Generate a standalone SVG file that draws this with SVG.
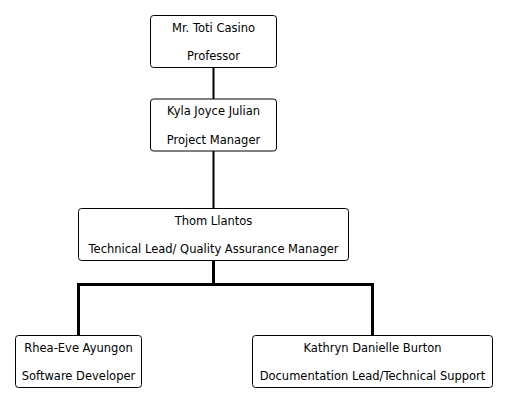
<svg xmlns="http://www.w3.org/2000/svg" width="507" height="402" viewBox="0 0 507 402">
<style>
.box{fill:#fff;stroke:#000;stroke-width:1}
.t{font-family:"DejaVu Sans",sans-serif;font-size:11.5px;fill:#000;text-anchor:middle}
.c{fill:none;stroke:#000;stroke-linecap:butt;stroke-linejoin:miter}
</style>
<rect width="507" height="402" fill="#fff"/>
<g id="connectors">
<line class="c" x1="213.5" y1="67.5" x2="213.5" y2="99" stroke-width="2"/>
<line class="c" x1="213.5" y1="151" x2="213.5" y2="208.5" stroke-width="2"/>
<polyline class="c" points="213.5,260.5 213.5,284.5" stroke-width="3"/>
<polyline class="c" points="78.5,335.5 78.5,284.5 372.5,284.5 372.5,335.5" stroke-width="3"/>
</g>
<g id="n1">
<rect class="box" x="150.5" y="15.5" width="126" height="52" rx="3"/>
<text class="t" x="213.5" y="31.5">Mr. Toti Casino</text>
<text class="t" x="213.5" y="60">Professor</text>
</g>
<g id="n2">
<rect class="box" x="150.5" y="99" width="126" height="52" rx="3"/>
<text class="t" x="213.5" y="115">Kyla Joyce Julian</text>
<text class="t" x="213.5" y="143.5">Project Manager</text>
</g>
<g id="n3">
<rect class="box" x="78.5" y="208.5" width="270" height="52" rx="3"/>
<text class="t" x="213.5" y="224.5">Thom Llantos</text>
<text class="t" x="213.5" y="253">Technical Lead/ Quality Assurance Manager</text>
</g>
<g id="n4">
<rect class="box" x="15.5" y="335.5" width="126" height="52" rx="3"/>
<text class="t" x="78.5" y="351.5">Rhea-Eve Ayungon</text>
<text class="t" x="78.5" y="380">Software Developer</text>
</g>
<g id="n5">
<rect class="box" x="252.5" y="335.5" width="240" height="52" rx="3"/>
<text class="t" x="372.5" y="351.5">Kathryn Danielle Burton</text>
<text class="t" x="372.5" y="380">Documentation Lead/Technical Support</text>
</g>
</svg>
